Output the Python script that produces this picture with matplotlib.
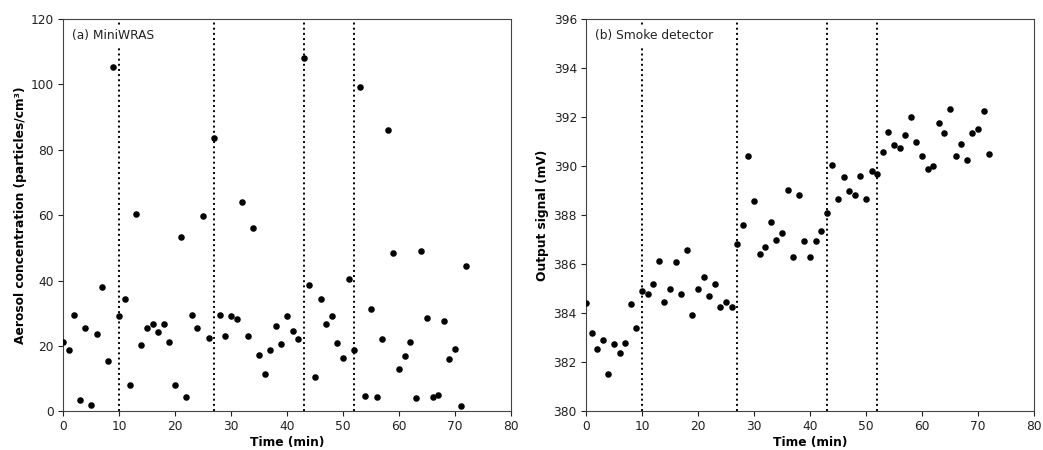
import numpy as np
import matplotlib
matplotlib.use("Agg")
import matplotlib.pyplot as plt

# Tempo (min) das medições
tempo = np.arange(0, 73)

# (a) MiniWRAS - concentração de aerossol
miniwras = [
    21.2, 18.7, 29.6, 3.4, 25.4, 2.0, 23.6, 37.9, 15.4, 105.3,
    29.1, 34.5, 8.2, 60.3, 20.3, 25.4, 26.6, 24.2, 26.6, 21.1,
    8.2, 53.3, 4.3, 29.4, 25.4, 59.7, 22.3, 83.7, 29.4, 23.0,
    29.1, 28.4, 63.9, 23.0, 56.2, 17.2, 11.5, 18.8, 26.0, 20.6,
    29.1, 24.5, 22.0, 108.0, 38.8, 10.5, 34.5, 26.6, 29.1, 20.9,
    16.3, 40.6, 18.8, 99.2, 4.8, 31.4, 4.3, 22.0, 86.1, 48.5,
    13.1, 16.9, 21.1, 4.0, 49.1, 28.5, 4.5, 5.1, 27.5, 16.0,
    19.1, 1.8, 44.5,
]

# (b) Detector de fumaça - sinal de saída
fumaca = [
    384.40, 383.18, 382.54, 382.93, 381.51, 382.73, 382.37, 382.78, 384.36, 383.38,
    384.92, 384.80, 385.21, 386.13, 384.47, 385.01, 386.09, 384.80, 386.58, 383.91,
    385.01, 385.50, 384.72, 385.21, 384.27, 384.47, 384.27, 386.82, 387.62, 390.43,
    388.56, 386.41, 386.70, 387.71, 386.98, 387.26, 389.01, 386.30, 388.81, 386.94,
    386.30, 386.94, 387.36, 388.07, 390.06, 388.65, 389.57, 388.97, 388.81, 389.61,
    388.65, 389.82, 389.69, 390.59, 391.40, 390.88, 390.72, 391.28, 392.01, 391.00,
    390.43, 389.90, 390.02, 391.77, 391.36, 392.34, 390.43, 390.92, 390.27, 391.36,
    391.52, 392.26, 390.51,
]

# Instantes de mudança (linhas pontilhadas)
mudancas = [10, 27, 43, 52]

fig = plt.figure(figsize=(10.43, 4.5), dpi=100)
ax1 = fig.add_axes([0.0604, 0.0858, 0.4296, 0.8720])
ax2 = fig.add_axes([0.5618, 0.0858, 0.4296, 0.8720])

paineis = [
    (ax1, miniwras, "(a) MiniWRAS", "Aerosol concentration (particles/cm³)", (0, 120), 20),
    (ax2, fumaca, "(b) Smoke detector", "Output signal (mV)", (380, 396), 2),
]

for ax, valores, titulo, ylabel, ylim, passo in paineis:
    ax.plot(tempo, valores, "o", color="black", markersize=3.7, zorder=3)
    for t in mudancas:
        ax.axvline(t, color="black", linestyle=":", linewidth=1.4, zorder=1)
    ax.text(0.02, 0.975, titulo, transform=ax.transAxes, fontsize=8.8,
            va="top", ha="left", color="#222222", zorder=4,
            bbox=dict(facecolor="white", edgecolor="none", pad=3))
    ax.set_xlim(0, 80)
    ax.set_ylim(*ylim)
    ax.set_yticks(np.arange(ylim[0], ylim[1] + passo / 2, passo))
    ax.set_xticks(np.arange(0, 81, 10))
    ax.set_xlabel("Time (min)", fontsize=8.8, fontweight="bold", labelpad=2)
    ax.set_ylabel(ylabel, fontsize=8.8, fontweight="bold", labelpad=3)
    ax.tick_params(labelsize=8.8, colors="#222222", pad=3)
    for sp in ax.spines.values():
        sp.set_color("#444444")

fig.savefig("out.png", dpi=100)
